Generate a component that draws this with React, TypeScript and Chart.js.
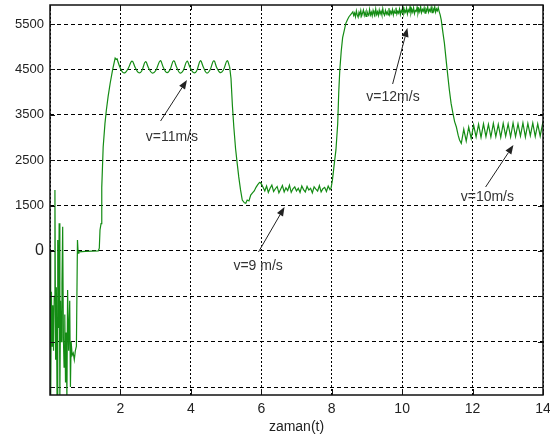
import { useEffect, useRef } from "react";
import { Chart, registerables } from "chart.js";

Chart.register(...registerables);

// ---- data (time in s, value) ----
const startup: [number, number][] = [
  [0.0, 500], [0.02, -2750], [0.04, -400], [0.06, -1600], [0.08, -700], [0.1, -1700],
  [0.12, -500], [0.14, 1840], [0.16, -1900], [0.18, -300], [0.2, -2750], [0.22, 740],
  [0.24, -1200], [0.26, 1110], [0.28, -2750], [0.3, -600], [0.32, -1500], [0.34, -200],
  [0.36, 1030], [0.38, -1400], [0.4, -2060], [0.42, -900], [0.44, -2400], [0.46, -1300],
  [0.48, -2750], [0.5, -360], [0.53, -1700], [0.56, -600], [0.58, -2500], [0.6, -1500],
  [0.63, -1800], [0.66, -1750], [0.69, -1900], [0.72, -1700], [0.75, -1600], [0.78, 740],
  [0.8, 450], [0.82, 480], [1.0, 490], [1.2, 495], [1.37, 500],
];

const rise11: [number, number][] = [
  [1.4, 560], [1.42, 960], [1.45, 1100], [1.47, 1900], [1.51, 2790], [1.56, 3300],
  [1.6, 3600], [1.65, 3900], [1.71, 4200], [1.78, 4500], [1.85, 4750], [1.88, 4720],
];

const plateau11: [number, number][] = [
  [1.9, 4740], [1.98, 4560], [2.06, 4440], [2.14, 4430], [2.22, 4520], [2.33, 4680],
  [2.42, 4540], [2.51, 4430], [2.6, 4460], [2.71, 4670], [2.8, 4530], [2.9, 4420],
  [3.0, 4470], [3.13, 4690], [3.22, 4540], [3.31, 4430], [3.4, 4480], [3.51, 4690],
  [3.6, 4540], [3.69, 4420], [3.78, 4470], [3.89, 4680], [3.98, 4540], [4.07, 4430],
  [4.16, 4460], [4.27, 4690], [4.36, 4540], [4.45, 4420], [4.54, 4480], [4.65, 4690],
  [4.74, 4530], [4.83, 4430], [4.92, 4480], [5.03, 4690], [5.1, 4560],
];

const drop9: [number, number][] = [
  [5.14, 4300], [5.18, 3700], [5.22, 3230], [5.27, 2750], [5.32, 2400], [5.36, 2130],
  [5.41, 1850], [5.46, 1620], [5.52, 1560], [5.56, 1550], [5.6, 1620], [5.65, 1600],
  [5.7, 1730], [5.75, 1780], [5.8, 1820], [5.85, 1900], [5.9, 1960], [5.95, 2010],
  [5.98, 2000], [6.02, 1950],
];

const plateau9: [number, number][] = [
  [6.05, 1900], [6.1, 1820], [6.15, 1930], [6.2, 1790], [6.25, 1880], [6.3, 1950],
  [6.35, 1810], [6.4, 1870], [6.45, 1920], [6.5, 1780], [6.55, 1860], [6.6, 1940],
  [6.65, 1800], [6.7, 1890], [6.75, 1830], [6.8, 1950], [6.85, 1790], [6.9, 1870],
  [6.95, 1910], [7.0, 1820], [7.05, 1880], [7.1, 1790], [7.15, 1930], [7.2, 1850],
  [7.25, 1800], [7.3, 1920], [7.35, 1840], [7.4, 1880], [7.45, 1780], [7.5, 1910],
  [7.55, 1860], [7.6, 1820], [7.65, 1940], [7.7, 1800], [7.75, 1870], [7.8, 1900],
  [7.85, 1810], [7.9, 1930], [7.95, 1850],
];

const rise12: [number, number][] = [
  [7.98, 1880], [8.02, 2060], [8.07, 2400], [8.12, 2725], [8.17, 3300], [8.2, 4000],
  [8.23, 4490], [8.27, 4900], [8.31, 5200], [8.36, 5370], [8.4, 5515], [8.45, 5600],
  [8.49, 5660], [8.55, 5720],
];

const plateau12: [number, number][] = [
  [8.6, 5770], [8.625, 5690], [8.65, 5740], [8.675, 5660], [8.7, 5790], [8.725, 5700],
  [8.75, 5650], [8.775, 5760], [8.8, 5700], [8.825, 5800], [8.85, 5680], [8.875, 5740],
  [8.9, 5810], [8.925, 5690], [8.95, 5760], [8.975, 5670], [9.0, 5780], [9.025, 5720],
  [9.05, 5690], [9.075, 5820], [9.1, 5700], [9.125, 5760], [9.15, 5680], [9.175, 5800],
  [9.2, 5730], [9.225, 5690], [9.25, 5830], [9.275, 5710], [9.3, 5770], [9.325, 5690],
  [9.35, 5810], [9.375, 5720], [9.4, 5780], [9.425, 5700], [9.45, 5840], [9.475, 5730],
  [9.5, 5690], [9.525, 5800], [9.55, 5720], [9.575, 5770], [9.6, 5700], [9.625, 5850],
  [9.65, 5710], [9.675, 5780], [9.7, 5730], [9.725, 5820], [9.75, 5700], [9.775, 5790],
  [9.8, 5740], [9.825, 5860], [9.85, 5720], [9.875, 5780], [9.9, 5740], [9.925, 5830],
  [9.95, 5710], [9.975, 5800], [10.0, 5750], [10.025, 5870], [10.05, 5730], [10.075, 5800],
  [10.1, 5760], [10.125, 5850], [10.15, 5720], [10.175, 5810], [10.2, 5770], [10.225, 5880],
  [10.25, 5740], [10.275, 5820], [10.3, 5760], [10.325, 5860], [10.35, 5730], [10.375, 5800],
  [10.4, 5780], [10.425, 5870], [10.45, 5740], [10.475, 5830], [10.5, 5770], [10.525, 5880],
  [10.55, 5750], [10.575, 5820], [10.6, 5780], [10.625, 5860], [10.65, 5740], [10.675, 5830],
  [10.7, 5790], [10.725, 5880], [10.75, 5760], [10.775, 5820], [10.8, 5780], [10.825, 5870],
  [10.85, 5750], [10.875, 5840], [10.9, 5790], [10.925, 5880], [10.95, 5760], [10.975, 5830],
  [11.0, 5790], [11.025, 5860], [11.05, 5780],
];

const drop10: [number, number][] = [
  [11.08, 5700], [11.11, 5590], [11.16, 5300], [11.2, 5080], [11.27, 4550], [11.34, 4050],
  [11.39, 3750], [11.44, 3540], [11.49, 3350], [11.54, 3230], [11.59, 3050], [11.63, 2945],
  [11.68, 2870],
];

const plateau10: [number, number][] = [
  [11.75, 3180], [11.82, 2920], [11.89, 3230], [11.96, 2980], [12.03, 3270], [12.1, 3010],
  [12.17, 3290], [12.24, 3000], [12.31, 3300], [12.38, 3020], [12.45, 3290], [12.52, 3010],
  [12.59, 3310], [12.66, 3020], [12.73, 3290], [12.8, 3000], [12.87, 3310], [12.94, 3030],
  [13.01, 3300], [13.08, 3010], [13.15, 3320], [13.22, 3020], [13.29, 3300], [13.36, 3030],
  [13.43, 3320], [13.5, 3010], [13.57, 3310], [13.64, 3040], [13.71, 3320], [13.78, 3020],
  [13.85, 3300], [13.92, 3030], [13.99, 3310], [14.0, 3280],
];

const yTickValues = [-2500, -1500, -500, 500, 1500, 2500, 3500, 4500, 5500];
const yTickLabels = ["", "", "", "0", "1500", "2500", "3500", "4500", "5500"];
const xAxisTitle = "zaman(t)";

const noteTexts = ["v=11m/s", "v=9 m/s", "v=12m/s", "v=10m/s"];
const noteTextPos: [number, number][] = [[3.46, 3010], [5.91, 167], [9.74, 3880], [12.42, 1676]];
const noteArrowFrom: [number, number][] = [[3.14, 3362], [5.92, 475], [9.73, 4178], [12.37, 1908]];
const noteArrowTo: [number, number][] = [[3.89, 4266], [6.66, 1467], [10.15, 5412], [13.16, 2833]];

const X_MIN = 0;
const X_MAX = 14;
const Y_MIN = -2676;
const Y_MAX = 5919;

const FONT = "'Liberation Sans', Arial, sans-serif";
const LINE_COLOR = "rgb(20,140,20)";

const toPts = (arr: [number, number][]) => arr.map(([x, y]) => ({ x, y }));

// three pieces so the 11 m/s ripple can be drawn smooth
const segA = toPts([...startup, ...rise11, plateau11[0]]);
const segB = toPts(plateau11);
const segC = toPts([
  plateau11[plateau11.length - 1], ...drop9, ...plateau9, ...rise12,
  ...plateau12, ...drop10, ...plateau10,
]);

const framePlugin = {
  id: "frameAndNotes",
  afterDatasetsDraw(chart: any) {
    const ctx = chart.ctx as CanvasRenderingContext2D;
    const xs = chart.scales.x;
    const ys = chart.scales.y;
    ctx.save();
    ctx.strokeStyle = "#222";
    ctx.lineWidth = 1;
    for (let i = 0; i < noteTexts.length; i++) {
      const x1 = xs.getPixelForValue(noteArrowFrom[i][0]);
      const y1 = ys.getPixelForValue(noteArrowFrom[i][1]);
      const x2 = xs.getPixelForValue(noteArrowTo[i][0]);
      const y2 = ys.getPixelForValue(noteArrowTo[i][1]);
      const ang = Math.atan2(y2 - y1, x2 - x1);
      const hl = 9;
      const hw = 3.5;
      const bx = x2 - hl * Math.cos(ang);
      const by = y2 - hl * Math.sin(ang);
      ctx.beginPath();
      ctx.moveTo(x1, y1);
      ctx.lineTo(bx, by);
      ctx.stroke();
      ctx.fillStyle = "#222";
      ctx.beginPath();
      ctx.moveTo(x2, y2);
      ctx.lineTo(bx + hw * Math.sin(ang), by - hw * Math.cos(ang));
      ctx.lineTo(bx - hw * Math.sin(ang), by + hw * Math.cos(ang));
      ctx.closePath();
      ctx.fill();
      ctx.fillStyle = "#333";
      ctx.font = `14px ${FONT}`;
      ctx.textAlign = "center";
      ctx.textBaseline = "middle";
      ctx.fillText(
        noteTexts[i],
        xs.getPixelForValue(noteTextPos[i][0]),
        ys.getPixelForValue(noteTextPos[i][1])
      );
    }
    ctx.restore();
  },
  afterDraw(chart: any) {
    const ctx = chart.ctx as CanvasRenderingContext2D;
    const { left, right, top, bottom } = chart.chartArea;
    const xs = chart.scales.x;
    const ys = chart.scales.y;
    ctx.save();
    ctx.strokeStyle = "#111";
    ctx.lineWidth = 1.5;
    ctx.strokeRect(left, top, right - left, bottom - top);
    ctx.lineWidth = 1;
    ctx.beginPath();
    for (const t of xs.ticks) {
      const px = Math.round(xs.getPixelForValue(t.value)) + 0.5;
      ctx.moveTo(px, bottom);
      ctx.lineTo(px, bottom - 6);
      ctx.moveTo(px, top);
      ctx.lineTo(px, top + 5);
    }
    for (const t of ys.ticks) {
      const py = Math.round(ys.getPixelForValue(t.value)) + 0.5;
      ctx.moveTo(left, py);
      ctx.lineTo(left + 5, py);
      ctx.moveTo(right, py);
      ctx.lineTo(right - 5, py);
    }
    ctx.stroke();
    ctx.restore();
  },
};

export default function App() {
  const ref = useRef<HTMLCanvasElement | null>(null);
  useEffect(() => {
    if (!ref.current) return;
    const common = {
      borderColor: LINE_COLOR,
      borderWidth: 1.2,
      pointRadius: 0,
      fill: false,
    };
    const chart = new Chart(ref.current, {
      type: "line",
      data: {
        datasets: [
          { ...common, data: segA, tension: 0 },
          { ...common, data: segB, tension: 0.4 },
          { ...common, data: segC, tension: 0 },
        ],
      },
      options: {
        animation: false,
        responsive: false,
        devicePixelRatio: 1,
        parsing: false as any,
        layout: { padding: { top: 5, right: 7, left: 0, bottom: 0 } },
        plugins: { legend: { display: false }, tooltip: { enabled: false } },
        scales: {
          x: {
            type: "linear",
            min: X_MIN,
            max: X_MAX,
            afterFit: (axis: any) => {
              axis.height = 42;
              axis.paddingLeft = 0;
              axis.paddingRight = 0;
            },
            ticks: {
              stepSize: 2,
              padding: 6,
              maxRotation: 0,
              color: "#222",
              font: { family: FONT, size: 14 },
              callback: (v: any) => (Number(v) === 0 ? "" : String(v)),
            },
            grid: { color: "#000", lineWidth: 1, drawTicks: false },
            border: { display: false, dash: [2, 2] },
            title: {
              display: true,
              text: xAxisTitle,
              color: "#222",
              font: { family: FONT, size: 14 },
              padding: { top: 0, bottom: 1 },
            },
          },
          y: {
            type: "linear",
            min: Y_MIN,
            max: Y_MAX,
            afterFit: (axis: any) => {
              axis.width = 50;
              axis.paddingTop = 0;
              axis.paddingBottom = 0;
            },
            afterBuildTicks: (axis: any) => {
              axis.ticks = yTickValues.map((v) => ({ value: v }));
            },
            ticks: {
              padding: 6,
              color: "#222",
              font: (c: any) =>
                c.tick && c.tick.value === 500
                  ? { family: FONT, size: 16 }
                  : { family: FONT, size: 13 },
              callback: (v: any) => {
                const i = yTickValues.indexOf(Number(v));
                return i >= 0 ? yTickLabels[i] : "";
              },
            },
            grid: { color: "#000", lineWidth: 1, drawTicks: false },
            border: { display: false, dash: [4, 3] },
          },
        },
      },
      plugins: [framePlugin],
    });
    return () => chart.destroy();
  }, []);
  return (
    <div style={{ position: "fixed", left: 0, top: 0, width: 550, height: 437, background: "#fff" }}>
      <canvas ref={ref} width={550} height={437} style={{ width: 550, height: 437 }} />
    </div>
  );
}
